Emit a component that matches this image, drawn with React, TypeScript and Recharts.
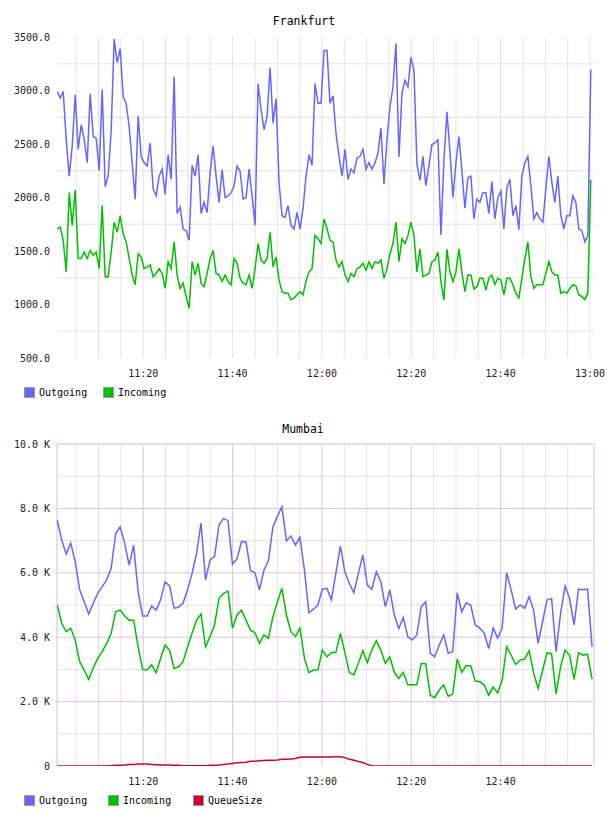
import { LineChart, Line, XAxis, YAxis, CartesianGrid } from 'recharts'

// sample times are minutes after 11:00
const FRA_START = 0.75
const FRA_STEP = 0.671
const MUM_START = 0.75
const MUM_STEP = 1.006

const fraOutgoing = [
  2990, 2930, 2990, 2540, 2200, 2480, 2960, 2450, 2680, 2540,
  2325, 2970, 2570, 2555, 2250, 3010, 2100, 2200, 2630, 3480,
  3260, 3390, 2940, 2880, 2660, 2325, 1985, 2760, 2385, 2325,
  2295, 2510, 2080, 2015, 2200, 2265, 2030, 2400, 2170, 3130,
  1850, 1910, 1705, 1690, 1600, 2300, 2200, 2400, 1850, 1955,
  1860, 2230, 2480, 2200, 1955, 2260, 2000, 2015, 2045, 2110,
  2295, 2245, 1985, 2000, 2265, 2015, 1740, 3065, 2820, 2635,
  2755, 3215, 2695, 2925, 2140, 1830, 1815, 1925, 1740, 1705,
  1860, 1705, 1900, 2200, 2400, 2300, 3065, 2880, 2880, 3375,
  3375, 2880, 2950, 2600, 2385, 2200, 2450, 2170, 2265, 2230,
  2370, 2385, 2450, 2265, 2325, 2265, 2325, 2415, 2650, 2125,
  2540, 2850, 3035, 3440, 2380, 2975, 3095, 3035, 3310, 3190,
  2310, 2160, 2385, 2110, 2300, 2495, 2510, 2540, 1650, 2350,
  2800, 2435, 2000, 2325, 2570, 2250, 1900, 2185, 2200, 1800,
  1985, 1955, 2045, 2045, 1850, 2150, 1800, 2000, 2060, 1705,
  2095, 2170, 1830, 1925, 1700, 2200, 2325, 2385, 2110, 1800,
  1860, 1800, 1770, 2080, 2385, 2140, 1955, 2200, 1830, 1705,
  1830, 1830, 2015, 1955, 1705, 1690, 1585, 1645, 3195,
]

const fraIncoming = [
  1705, 1725, 1600, 1305, 2045, 1740, 2070, 1430, 1430, 1490,
  1430, 1505, 1460, 1490, 1335, 1925, 1260, 1260, 1490, 1770,
  1675, 1830, 1660, 1585, 1430, 1275, 1185, 1475, 1445, 1335,
  1350, 1370, 1260, 1290, 1335, 1290, 1150, 1400, 1335, 1585,
  1275, 1150, 1200, 1075, 965, 1400, 1275, 1385, 1200, 1165,
  1290, 1430, 1505, 1290, 1275, 1215, 1275, 1215, 1185, 1430,
  1385, 1245, 1200, 1185, 1275, 1150, 1335, 1570, 1415, 1385,
  1430, 1675, 1350, 1445, 1230, 1120, 1105, 1105, 1045, 1060,
  1090, 1120, 1090, 1220, 1305, 1335, 1645, 1615, 1570, 1800,
  1710, 1600, 1585, 1415, 1350, 1400, 1275, 1215, 1290, 1260,
  1335, 1350, 1385, 1320, 1400, 1335, 1400, 1385, 1415, 1245,
  1335, 1475, 1570, 1770, 1400, 1615, 1570, 1645, 1770, 1645,
  1305, 1520, 1260, 1275, 1290, 1400, 1415, 1490, 1215, 1040,
  1515, 1305, 1215, 1305, 1520, 1300, 1120, 1275, 1275, 1145,
  1165, 1245, 1245, 1135, 1245, 1275, 1185, 1245, 1230, 1090,
  1245, 1245, 1185, 1105, 1060, 1245, 1430, 1585, 1260, 1150,
  1185, 1185, 1185, 1290, 1400, 1305, 1275, 1275, 1105, 1120,
  1105, 1150, 1185, 1175, 1090, 1075, 1045, 1105, 2165,
]

// Mumbai values in thousands
const mumOutgoing = [
  7.64, 7.02, 6.58, 6.92, 6.35, 5.47, 5.10, 4.72, 5.05, 5.36,
  5.57, 5.78, 6.14, 7.22, 7.43, 6.92, 6.24, 6.86, 5.41, 4.66,
  4.66, 4.97, 4.84, 5.16, 5.72, 5.59, 4.90, 4.93, 5.06, 5.47,
  5.98, 6.60, 7.54, 5.78, 6.40, 6.50, 7.48, 7.69, 7.62, 6.27,
  6.43, 6.97, 6.96, 6.07, 6.00, 5.47, 6.09, 6.38, 7.43, 7.76,
  8.05, 6.99, 7.14, 6.86, 7.10, 6.09, 4.76, 4.87, 5.00, 5.49,
  5.52, 5.16, 5.98, 6.83, 6.03, 5.67, 5.38, 5.98, 6.55, 5.62,
  5.49, 6.03, 5.72, 4.95, 5.47, 4.69, 4.27, 4.61, 4.01, 3.91,
  4.07, 4.95, 5.10, 3.50, 3.39, 3.76, 4.07, 3.50, 3.55, 5.38,
  4.79, 5.07, 5.00, 4.38, 4.28, 4.13, 3.65, 4.28, 3.97, 4.28,
  6.00, 5.47, 4.87, 5.00, 4.90, 5.26, 4.84, 3.81, 4.48, 5.17,
  5.20, 3.55, 4.74, 5.59, 5.20, 4.38, 5.49, 5.47, 5.49, 3.70,
]

const mumIncoming = [
  5.00, 4.43, 4.17, 4.28, 3.91, 3.24, 2.98, 2.69, 3.03, 3.34,
  3.55, 3.81, 4.12, 4.79, 4.84, 4.66, 4.53, 4.53, 3.70, 3.00,
  2.98, 3.14, 2.90, 3.34, 3.76, 3.60, 3.03, 3.08, 3.24, 3.70,
  4.12, 4.53, 4.72, 3.70, 4.02, 4.38, 5.21, 5.36, 5.43, 4.28,
  4.69, 4.84, 4.53, 4.22, 4.14, 3.81, 4.07, 3.97, 4.64, 5.10,
  5.52, 4.69, 4.17, 4.02, 4.28, 3.35, 2.90, 2.98, 2.98, 3.60,
  3.39, 3.52, 3.53, 4.12, 3.52, 2.91, 2.83, 3.19, 3.58, 3.21,
  3.60, 3.89, 3.60, 3.19, 3.39, 2.91, 2.72, 2.91, 2.52, 2.52,
  2.52, 3.19, 3.17, 2.20, 2.12, 2.36, 2.52, 2.16, 2.24, 3.32,
  2.91, 3.11, 3.11, 2.64, 2.62, 2.52, 2.20, 2.46, 2.27, 2.67,
  3.70, 3.44, 3.15, 3.29, 3.32, 3.58, 2.88, 2.41, 2.98, 3.52,
  3.48, 2.24, 3.08, 3.60, 3.44, 2.69, 3.52, 3.44, 3.47, 2.69,
]

const mumQueue = [
  0, 0, 0, 0, 0, 0, 0, 0, 0, 0,
  0, 0, 0.01, 0.02, 0.02, 0.03, 0.05, 0.05, 0.06, 0.06,
  0.06, 0.05, 0.04, 0.03, 0.03, 0.03, 0.02, 0.02, 0.01, 0.01,
  0.01, 0.01, 0.01, 0.01, 0.02, 0.02, 0.03, 0.05, 0.06, 0.08,
  0.10, 0.11, 0.12, 0.15, 0.15, 0.16, 0.17, 0.18, 0.18, 0.19,
  0.21, 0.21, 0.22, 0.23, 0.27, 0.28, 0.28, 0.28, 0.28, 0.28,
  0.28, 0.28, 0.29, 0.29, 0.26, 0.21, 0.18, 0.14, 0.11, 0.05,
  0.01, 0, 0, 0, 0, 0, 0, 0, 0, 0,
  0, 0, 0, 0, 0, 0, 0, 0, 0, 0,
  0, 0, 0, 0, 0, 0, 0, 0, 0, 0,
  0, 0, 0, 0, 0, 0, 0, 0, 0, 0,
  0, 0, 0, 0, 0, 0, 0, 0, 0, 0,
]

const X_DOMAIN: [number, number] = [0.7, 120.9]
const fraTimeTicks = [20, 40, 60, 80, 100, 120]
const mumTimeTicks = [20, 40, 60, 80, 100]
const everyFiveMin = [5, 10, 15, 20, 25, 30, 35, 40, 45, 50, 55, 60, 65, 70, 75, 80, 85, 90, 95, 100, 105, 110, 115, 120]
const minorFiveMin = [5, 10, 15, 25, 30, 35, 45, 50, 55, 65, 70, 75, 85, 90, 95, 105, 110, 115]
const fraValueTicks = [500, 1000, 1500, 2000, 2500, 3000, 3500]
const fraGridValues = [750, 1250, 1750, 2250, 2750, 3250]
const mumValueTicks = [0, 2, 4, 6, 8, 10]
const mumMajorValues = [2, 4, 6, 8]
const mumMinorValues = [1, 3, 5, 7, 9]

const BLUE = '#6666ff'
const GREEN = '#00c000'
const RED = '#cc0033'
const GRID = '#e2e2e2'
const LILAC = '#dcc6dc'
const LILAC_LIGHT = '#ecdcec'
const MONO = 'DejaVu Sans Mono, monospace'

const fraData = fraOutgoing.map((v, i) => ({
  t: FRA_START + i * FRA_STEP,
  outgoing: v,
  incoming: fraIncoming[i],
}))

const mumData = mumOutgoing.map((v, i) => ({
  t: MUM_START + i * MUM_STEP,
  outgoing: v,
  incoming: mumIncoming[i],
  queue: mumQueue[i],
}))

const clock = (t: number) => {
  const h = 11 + Math.floor(t / 60)
  const m = Math.round(t % 60)
  return `${h}:${m < 10 ? '0' + m : m}`
}

const tickStyle = { fontFamily: MONO, fontSize: 10, fill: '#222' }

function LegendItem({ x, y, color, label }: { x: number; y: number; color: string; label: string }) {
  return (
    <g>
      <rect x={x + 0.5} y={y + 0.5} width={10} height={10} fill={color} stroke="#999" />
      <text x={x + 15} y={y + 9} fontFamily={MONO} fontSize={10} fill="#000">{label}</text>
    </g>
  )
}

export default function App() {
  return (
    <div style={{ position: 'absolute', left: 0, top: 0, width: 608, height: 816, background: '#fff' }}>
      <div style={{ position: 'absolute', left: 0, top: 0 }}>
        <LineChart width={608} height={380} data={fraData} margin={{ top: 37, right: 14, bottom: 0, left: 0 }}>
          <CartesianGrid stroke={GRID} horizontalValues={fraGridValues} verticalValues={everyFiveMin} />
          <XAxis
            type="number"
            dataKey="t"
            domain={X_DOMAIN}
            allowDataOverflow
            ticks={fraTimeTicks}
            interval={0}
            tickFormatter={clock}
            axisLine={false}
            tickLine={false}
            tickSize={0}
            tickMargin={12}
            height={22}
            tick={tickStyle}
          />
          <YAxis
            type="number"
            domain={[500, 3500]}
            allowDataOverflow
            ticks={fraValueTicks}
            interval={0}
            tickFormatter={(v: number) => v.toFixed(1)}
            axisLine={false}
            tickLine={false}
            tickSize={0}
            tickMargin={7}
            width={57}
            tick={tickStyle}
          />
          <Line type="linear" dataKey="outgoing" stroke={BLUE} strokeWidth={1.5} dot={false} isAnimationActive={false} />
          <Line type="linear" dataKey="incoming" stroke={GREEN} strokeWidth={1.5} dot={false} isAnimationActive={false} />
        </LineChart>
      </div>

      <div style={{ position: 'absolute', left: 0, top: 407 }}>
        <LineChart width={608} height={381} data={mumData} margin={{ top: 37, right: 14, bottom: 0, left: 0 }}>
          <CartesianGrid stroke={GRID} horizontalValues={mumMinorValues} verticalValues={minorFiveMin} />
          <CartesianGrid stroke={LILAC} horizontalValues={mumMajorValues} verticalValues={mumTimeTicks} />
          <CartesianGrid stroke={LILAC_LIGHT} strokeWidth={2} horizontalValues={[10]} verticalValues={X_DOMAIN} />
          <XAxis
            type="number"
            dataKey="t"
            domain={X_DOMAIN}
            allowDataOverflow
            ticks={mumTimeTicks}
            interval={0}
            tickFormatter={clock}
            axisLine={false}
            tickLine={false}
            tickSize={0}
            tickMargin={12}
            height={22}
            tick={tickStyle}
          />
          <YAxis
            type="number"
            domain={[0, 10]}
            allowDataOverflow
            ticks={mumValueTicks}
            interval={0}
            tickFormatter={(v: number) => (v === 0 ? '0' : `${v.toFixed(1)} K`)}
            axisLine={false}
            tickLine={false}
            tickSize={0}
            tickMargin={7}
            width={57}
            tick={tickStyle}
          />
          <Line type="linear" dataKey="outgoing" stroke={BLUE} strokeWidth={1.5} dot={false} isAnimationActive={false} />
          <Line type="linear" dataKey="incoming" stroke={GREEN} strokeWidth={1.5} dot={false} isAnimationActive={false} />
          <Line type="linear" dataKey="queue" stroke={RED} strokeWidth={1.5} dot={false} isAnimationActive={false} />
        </LineChart>
      </div>

      <svg width={608} height={816} style={{ position: 'absolute', left: 0, top: 0, pointerEvents: 'none' }}>
        <text x={304} y={25} textAnchor="middle" fontFamily={MONO} fontSize={11.5} fill="#000">Frankfurt</text>
        <LegendItem x={24} y={387} color={BLUE} label="Outgoing" />
        <LegendItem x={103} y={387} color={GREEN} label="Incoming" />

        <text x={303} y={433} textAnchor="middle" fontFamily={MONO} fontSize={11.5} fill="#000">Mumbai</text>
        <LegendItem x={24} y={795} color={BLUE} label="Outgoing" />
        <LegendItem x={108} y={795} color={GREEN} label="Incoming" />
        <LegendItem x={193} y={795} color={RED} label="QueueSize" />
      </svg>
    </div>
  )
}
